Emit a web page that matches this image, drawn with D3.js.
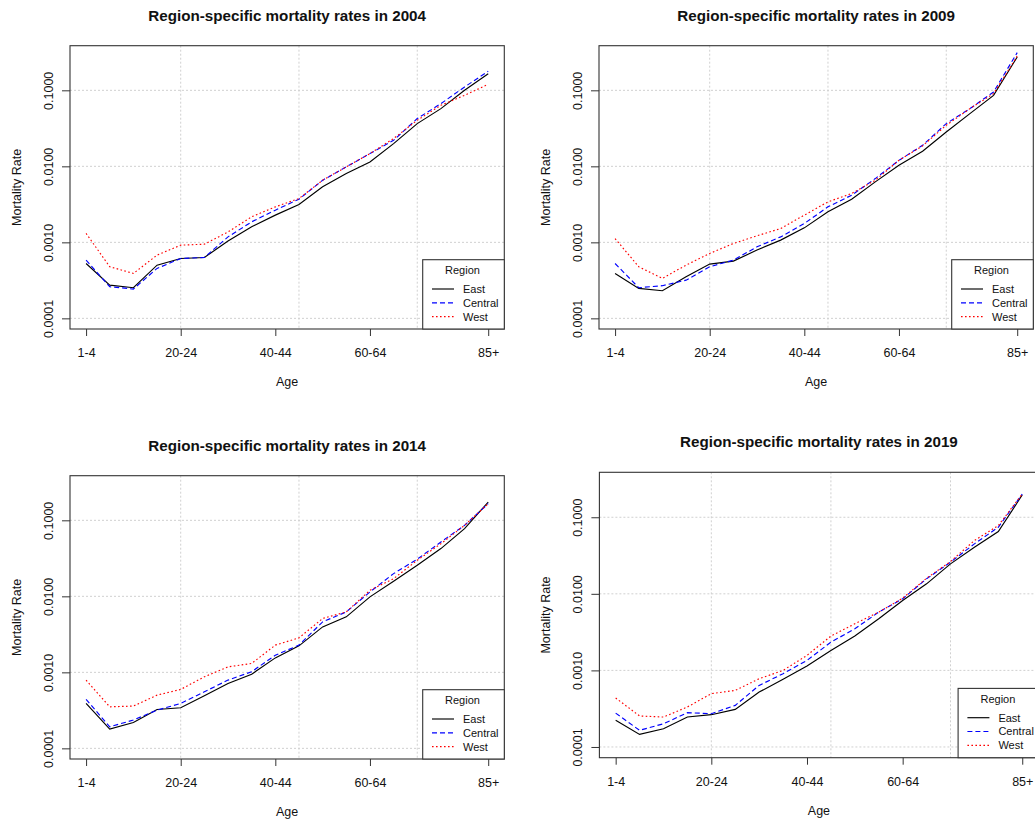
<!DOCTYPE html>
<html>
<head>
<meta charset="utf-8">
<script src="https://cdn.jsdelivr.net/npm/d3@7"></script>
<style>
  body { margin: 0; background: #fff; }
  svg { display: block; }
  text { font-family: "Liberation Sans", Arial, Helvetica, sans-serif; fill: #111; }
</style>
</head>
<body>
<svg id="chart" width="1035" height="825"></svg>
<script>
// Age groups on the x axis and the labelled ticks
const ageGroups = ["1-4","5-9","10-14","15-19","20-24","25-29","30-34","35-39","40-44",
                   "45-49","50-54","55-59","60-64","65-69","70-74","75-79","80-84","85+"];
const tickAges = ["1-4","20-24","40-44","60-64","85+"];
const gridAges = ["20-24","45-49","70-74"];
const rateTicks = [0.0001, 0.001, 0.01, 0.1];
const regions = ["East","Central","West"];
const years = [2004, 2009, 2014, 2019];

// Mortality rates by age group, one array per region and year
const east2004    = [0.000527,0.000274,0.000253,0.000501,0.000614,0.000632,0.00104,0.00160,0.00228,0.00315,0.00537,0.00804,0.01143,0.0199,0.0365,0.0574,0.100,0.1656];
const central2004 = [0.000583,0.000261,0.000243,0.000454,0.000614,0.000632,0.00118,0.00186,0.00265,0.00370,0.00656,0.00984,0.01472,0.0220,0.0425,0.0668,0.1107,0.178];
const west2004    = [0.00131,0.000478,0.000390,0.000679,0.000918,0.000946,0.00137,0.00217,0.00293,0.00377,0.00656,0.00984,0.01472,0.0232,0.0404,0.0635,0.0859,0.120];

const east2009    = [0.000390,0.000248,0.000231,0.000352,0.000518,0.000566,0.000791,0.00107,0.00155,0.00252,0.00370,0.00624,0.01033,0.0158,0.0283,0.0493,0.0859,0.274];
const central2009 = [0.000527,0.000253,0.000269,0.000318,0.000478,0.000583,0.000873,0.00118,0.00177,0.00293,0.00417,0.00690,0.0120,0.0189,0.0365,0.0574,0.0951,0.313];
const west2009    = [0.00112,0.000478,0.000336,0.000501,0.000714,0.000966,0.00122,0.00152,0.00228,0.00341,0.00439,0.00656,0.0120,0.0186,0.0347,0.0574,0.0904,0.282];

const east2014    = [0.000390,0.000179,0.000219,0.000325,0.000342,0.000492,0.000714,0.000946,0.00155,0.00223,0.00396,0.00537,0.00984,0.0158,0.0256,0.0425,0.0776,0.174];
const central2014 = [0.000441,0.000192,0.000236,0.000318,0.000390,0.000555,0.000791,0.00102,0.00168,0.00228,0.00461,0.00624,0.01143,0.0199,0.0308,0.0519,0.0859,0.1656];
const west2014    = [0.000791,0.000352,0.000360,0.000501,0.000596,0.000873,0.00118,0.00131,0.00228,0.00284,0.00511,0.00624,0.0120,0.0171,0.0298,0.0493,0.0859,0.1656];

const east2019    = [0.000223,0.000146,0.000173,0.000246,0.000264,0.000310,0.000521,0.000764,0.00114,0.00182,0.00281,0.00472,0.00818,0.0135,0.0246,0.0406,0.0650,0.195];
const central2019 = [0.000277,0.000165,0.000201,0.000281,0.000272,0.000349,0.000637,0.000906,0.00135,0.00234,0.00349,0.00577,0.00861,0.0157,0.0259,0.0449,0.0741,0.201];
const west2019    = [0.000436,0.000254,0.000246,0.000333,0.000497,0.000548,0.000778,0.00100,0.00157,0.00281,0.00406,0.00577,0.00877,0.0160,0.0264,0.0497,0.0778,0.201];

const seriesByYear = {
  2004: [east2004, central2004, west2004],
  2009: [east2009, central2009, west2009],
  2014: [east2014, central2014, west2014],
  2019: [east2019, central2019, west2019]
};

// Plot-region frames for the 2x2 layout
const frames = [
  { left: 70,    right: 504.3,  top: 45.7,  bottom: 329 },
  { left: 599,   right: 1033.3, top: 45.7,  bottom: 329 },
  { left: 70,    right: 504.3,  top: 475.7, bottom: 759 },
  { left: 599.4, right: 1038.5, top: 472.3, bottom: 757.7 }
];

const lineStyles = [
  { color: "#000000", dash: null },
  { color: "#0000ff", dash: "5,3" },
  { color: "#ff0000", dash: "1.6,2.4" }
];

const yDomain = [Math.pow(10, -4.14), Math.pow(10, -0.413)];
const svg = d3.select("#chart");
const fs = 12.5;

years.forEach((year, k) => {
  const f = frames[k];
  const g = svg.append("g");

  const x = d3.scalePoint().domain(ageGroups).range([f.left, f.right]).padding(0.68);
  const y = d3.scaleLog().domain(yDomain).range([f.bottom, f.top]);

  const clipId = "clip" + year;
  g.append("clipPath").attr("id", clipId)
    .append("rect").attr("x", f.left).attr("y", f.top)
    .attr("width", f.right - f.left).attr("height", f.bottom - f.top);

  // dotted grid
  const grid = g.append("g").attr("stroke", "#d0d0d0").attr("stroke-width", 1)
    .attr("stroke-dasharray", "2,2").attr("fill", "none");
  gridAges.forEach(a => grid.append("line")
    .attr("x1", x(a)).attr("x2", x(a)).attr("y1", f.top).attr("y2", f.bottom));
  rateTicks.forEach(v => grid.append("line")
    .attr("x1", f.left).attr("x2", f.right).attr("y1", y(v)).attr("y2", y(v)));

  // series lines
  const line = d3.line().x((d, i) => x(ageGroups[i])).y(d => y(d));
  const lines = g.append("g").attr("clip-path", `url(#${clipId})`);
  seriesByYear[year].forEach((vals, s) => {
    lines.append("path").datum(vals)
      .attr("d", line)
      .attr("fill", "none")
      .attr("stroke", lineStyles[s].color)
      .attr("stroke-width", 1.15)
      .attr("stroke-dasharray", lineStyles[s].dash);
  });

  // x axis
  const xAxis = g.append("g").attr("transform", `translate(0,${f.bottom})`)
    .call(d3.axisBottom(x).tickValues(tickAges).tickSize(7).tickSizeOuter(0));
  xAxis.select(".domain").remove();
  xAxis.selectAll(".tick line").attr("stroke", "#333");
  xAxis.selectAll(".tick text").attr("y", 28).attr("dy", null)
    .style("font-size", fs + "px").style("font-family", "Liberation Sans, Arial, sans-serif")
    .attr("fill", "#111");

  // y axis with rotated labels
  const yAxis = g.append("g").attr("transform", `translate(${f.left},0)`)
    .call(d3.axisLeft(y).tickValues(rateTicks).tickFormat(d3.format(".4f")).tickSize(8).tickSizeOuter(0));
  yAxis.select(".domain").remove();
  yAxis.selectAll(".tick line").attr("stroke", "#333");
  yAxis.selectAll(".tick text")
    .attr("x", null).attr("dy", null).attr("text-anchor", "middle")
    .attr("transform", "translate(-17.3,0) rotate(-90)")
    .style("font-size", fs + "px").style("font-family", "Liberation Sans, Arial, sans-serif")
    .attr("fill", "#111");

  // plot frame
  g.append("rect").attr("x", f.left).attr("y", f.top)
    .attr("width", f.right - f.left).attr("height", f.bottom - f.top)
    .attr("fill", "none").attr("stroke", "#333").attr("stroke-width", 1.1);

  const cx = (f.left + f.right) / 2;
  const cy = (f.top + f.bottom) / 2;

  // titles
  g.append("text").attr("x", cx).attr("y", f.top - 25)
    .attr("text-anchor", "middle").style("font-size", "15.2px").style("font-weight", "bold")
    .attr("fill", "#000")
    .text(`Region-specific mortality rates in ${year}`);
  g.append("text").attr("x", cx).attr("y", f.bottom + 57)
    .attr("text-anchor", "middle").style("font-size", fs + "px")
    .text("Age");
  g.append("text").attr("transform", `translate(${f.left - 49},${cy}) rotate(-90)`)
    .attr("text-anchor", "middle").style("font-size", fs + "px")
    .text("Mortality Rate");

  // legend, anchored at the bottom-right corner of the plot
  const lw = 81.6, lh = 69.3;
  const lx = f.left + (f.right - f.left) - lw + (k === 3 ? 1.2 : 0);
  const ly = f.bottom - lh;
  const leg = g.append("g");
  leg.append("rect").attr("x", lx).attr("y", ly).attr("width", lw).attr("height", lh)
    .attr("fill", "#fff").attr("stroke", "#333").attr("stroke-width", 1.1);
  leg.append("text").attr("x", lx + lw / 2 - 1).attr("y", ly + 14.2)
    .attr("text-anchor", "middle").style("font-size", "11px").text("Region");
  regions.forEach((r, s) => {
    const ry = ly + 29.3 + s * 13.8;
    leg.append("line").attr("x1", lx + 9.3).attr("x2", lx + 31.3).attr("y1", ry).attr("y2", ry)
      .attr("stroke", lineStyles[s].color).attr("stroke-width", 1.15)
      .attr("stroke-dasharray", lineStyles[s].dash);
    leg.append("text").attr("x", lx + 40.3).attr("y", ry + 3.9)
      .style("font-size", "11px").text(r);
  });
});
</script>
</body>
</html>
